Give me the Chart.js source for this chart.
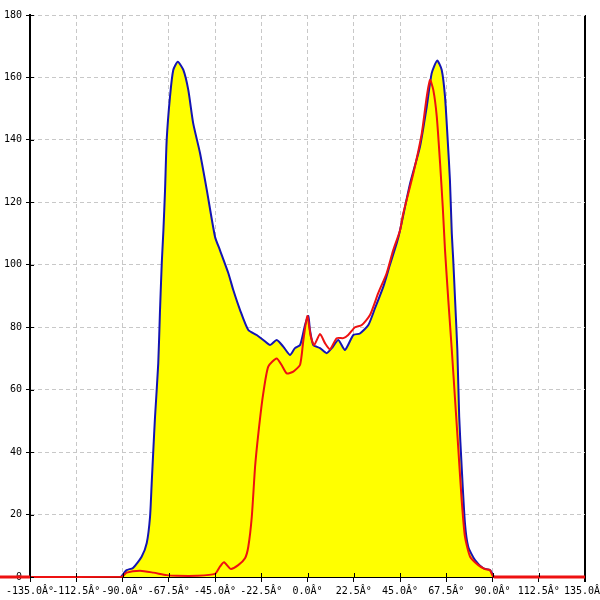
<!DOCTYPE html>
<html lang="en">
<head>
    <meta charset="UTF-8">
    <title>Angular distribution</title>
    <style>
        html, body { margin: 0; padding: 0; background: #fff; }
        #chart { display: block; }
    </style>
</head>
<body>

<canvas id="chart" width="600" height="600" role="img" aria-label="Angular distribution chart"></canvas>

<script src="https://cdn.jsdelivr.net/npm/chart.js@4.4.1/dist/chart.umd.min.js"></script>

<script>
    // blue curve (filled yellow underneath)
    var blueAngles = [-91, -90.4, -88.0, -84.9, -80.7, -78.2, -76.6, -75.8, -75.0, -74.2,
        -72.6, -71.8, -70.9, -70.1, -69.3, -68.5, -66.9, -65.3, -63.1, -60.4,
        -58.0, -55.6, -52.3, -49.0, -45.0, -42.6, -38.5, -36.1, -32.8, -28.8,
        -24.7, -21.5, -18.2, -15.0, -11.8, -8.5, -6.1, -3.6, -1.2, 0.4,
        1.2, 2.8, 6.1, 9.3, 11.8, 15.0, 18.2, 22.3, 25.5, 29.6,
        32.8, 36.9, 40.1, 43.4, 45.0, 49.9, 54.7, 58.0, 60.4, 63.1,
        65.3, 66.9, 68.2, 69.3, 70.2, 70.9, 71.8, 72.9, 73.8, 75.0,
        76.6, 78.2, 81.5, 85.5, 88.8, 90.7];
    var blueValues = [0, 0.3, 2.2, 2.9, 6.5, 10.9, 19.3, 30, 40.7, 51,
        68.5, 84.5, 100.5, 111, 124, 140, 153.8, 162.4, 165, 162.4,
        156, 145.3, 135.8, 124, 109, 104.7, 97.3, 91.9, 85.5, 79.1,
        77.5, 75.9, 74.3, 75.9, 73.8, 71.1, 73.3, 74.3, 80.7, 83.6,
        79.1, 74.3, 73.3, 71.7, 73.3, 75.9, 72.7, 77.5, 78, 80.7,
        86, 93, 100, 106.9, 111, 126, 137.8, 150.6, 161.3, 165.4,
        162.4, 153.8, 140, 127, 110, 101.5, 88.7, 72.7, 51.3, 35.3,
        17.2, 9.7, 5.4, 2.8, 2.2, 0];

    // red curve, runs along zero out to the canvas edges
    var redAngles = [-150, -135, -90.4, -88.0, -81.5, -75.0, -68.5, -63.6, -53.9, -45.0,
        -42.6, -40.6, -37.4, -33.7, -30.4, -28.8, -27.1, -25.5, -23.9, -21.7,
        -19.1, -15.0, -12.6, -10.1, -6.9, -3.6, -2.0, -0.1, 1.6, 3.2,
        6.1, 8.5, 10.9, 14.2, 17.4, 19.8, 23.1, 26.4, 30.4, 34.4,
        38.5, 41.7, 45.0, 46.6, 51.5, 55.6, 58.0, 59.6, 61.2, 62.9,
        64.5, 65.8, 66.9, 68.5, 70.2, 71.8, 73.4, 75.0, 76.6, 79.1,
        83.1, 86.4, 88.8, 90.7, 135, 150];
    var redValues = [0, 0, 0.1, 1.4, 2, 1.4, 0.6, 0.4, 0.4, 1,
        3.3, 4.7, 2.6, 3.8, 6, 9.7, 19.3, 35.3, 46, 58,
        67.4, 70, 67.9, 65.2, 65.8, 68, 75.9, 83.6, 77, 74.3,
        77.8, 74.9, 72.9, 76.5, 76.5, 77.5, 80, 80.7, 83.9, 90.9,
        97.3, 104.7, 111, 116.5, 129.3, 142.1, 153.8, 159.2, 156, 147.4,
        132.5, 118.6, 104.7, 88.7, 72.7, 56.7, 40.7, 24.7, 12.9, 6.5,
        3.8, 2.5, 2.2, 0, 0, 0];

    var xTicks = [-135, -112.5, -90, -67.5, -45, -22.5, 0, 22.5, 45, 67.5, 90, 112.5, 135];
    var xTickLabels = ['-135.0Â°', '-112.5Â°', '-90.0Â°', '-67.5Â°', '-45.0Â°', '-22.5Â°', '0.0Â°',
        '22.5Â°', '45.0Â°', '67.5Â°', '90.0Â°', '112.5Â°', '135.0Â°'];
    var yTicks = [0, 20, 40, 60, 80, 100, 120, 140, 160, 180];
    var yTickLabels = ['0', '20', '40', '60', '80', '100', '120', '140', '160', '180'];

    function toPoints(xs, ys) {
        var pts = [];
        for (var i = 0; i < xs.length; i++) {
            pts.push({ x: xs[i], y: ys[i] });
        }
        return pts;
    }

    // short tick marks on the inner side of both axes
    var innerTicks = {
        id: 'innerTicks',
        afterDatasetsDraw: function (chart) {
            var c = chart.ctx;
            var xs = chart.scales.x, ys = chart.scales.y;
            c.save();
            c.strokeStyle = '#000';
            c.lineWidth = 1;
            c.beginPath();
            xs.ticks.forEach(function (t) {
                var px = Math.round(xs.getPixelForValue(t.value)) + 0.5;
                c.moveTo(px, ys.bottom);
                c.lineTo(px, ys.bottom - 4);
            });
            ys.ticks.forEach(function (t) {
                var py = Math.round(ys.getPixelForValue(t.value)) + 0.5;
                c.moveTo(xs.left, py);
                c.lineTo(xs.left + 4, py);
            });
            c.stroke();
            c.restore();
        }
    };

    var tickFont = { family: 'DejaVu Sans Mono', size: 10 };

    var ctx = document.getElementById('chart').getContext('2d');
    new Chart(ctx, {
        type: 'line',
        data: {
            datasets: [
                {
                    data: toPoints(redAngles, redValues),
                    borderColor: '#ee1111',
                    borderWidth: 2,
                    pointRadius: 0,
                    fill: false,
                    clip: false,
                    tension: 0.2,
                    segment: {
                        borderWidth: function (c) {
                            return (c.p0.parsed.y === 0 && c.p1.parsed.y === 0) ? 3 : 2;
                        }
                    }
                },
                {
                    data: toPoints(blueAngles, blueValues),
                    borderColor: '#1414b4',
                    borderWidth: 2,
                    backgroundColor: '#ffff00',
                    pointRadius: 0,
                    fill: 'origin',
                    tension: 0.2
                }
            ]
        },
        options: {
            responsive: false,
            animation: false,
            events: [],
            layout: { padding: { left: 0, top: 15, right: 15, bottom: 0 } },
            plugins: {
                legend: { display: false },
                tooltip: { enabled: false }
            },
            scales: {
                x: {
                    type: 'linear',
                    min: -135,
                    max: 135,
                    afterBuildTicks: function (scale) {
                        scale.ticks = xTicks.map(function (v) { return { value: v }; });
                    },
                    afterFit: function (scale) {
                        scale.height = 23;
                        scale.paddingLeft = 0;
                        scale.paddingRight = 0;
                    },
                    ticks: {
                        autoSkip: false,
                        maxRotation: 0,
                        padding: 3,
                        color: '#000',
                        font: tickFont,
                        callback: function (value, index) { return xTickLabels[index]; }
                    },
                    grid: {
                        color: function (c) {
                            return (c.tick && c.tick.value === 135) ? '#000' : '#c8c8c8';
                        },
                        lineWidth: function (c) {
                            return (c.tick && c.tick.value === 135) ? 2 : 1;
                        },
                        tickColor: '#000',
                        tickLength: 5
                    },
                    border: {
                        color: '#000',
                        width: 1,
                        dash: function (c) {
                            return (c.tick && c.tick.value === 135) ? [] : [4, 3];
                        }
                    }
                },
                y: {
                    type: 'linear',
                    min: 0,
                    max: 180,
                    afterBuildTicks: function (scale) {
                        scale.ticks = yTicks.map(function (v) { return { value: v }; });
                    },
                    afterFit: function (scale) {
                        scale.width = 30;
                        scale.paddingTop = 0;
                        scale.paddingBottom = 0;
                    },
                    ticks: {
                        padding: 4,
                        color: '#000',
                        font: tickFont,
                        callback: function (value, index) { return yTickLabels[index]; }
                    },
                    grid: {
                        color: '#c8c8c8',
                        tickColor: '#000',
                        tickLength: 4
                    },
                    border: {
                        color: '#000',
                        width: 2,
                        dash: [4, 3]
                    }
                }
            }
        },
        plugins: [innerTicks]
    });
</script>

</body>
</html>
